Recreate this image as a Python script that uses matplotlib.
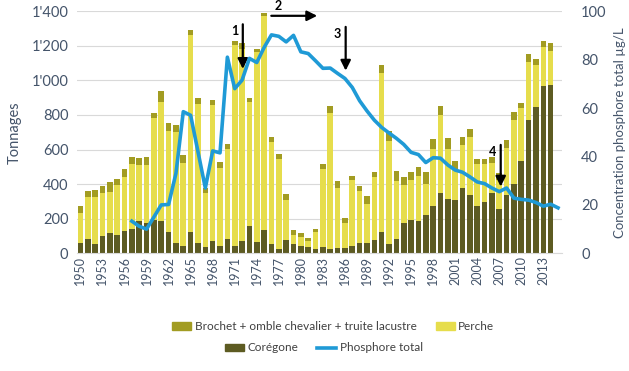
import numpy as np
import matplotlib
matplotlib.use("Agg")
import matplotlib.pyplot as plt
from matplotlib.lines import Line2D
from matplotlib.patches import Patch
from matplotlib.ticker import FuncFormatter

plt.rcParams['font.family'] = ['Lato', 'DejaVu Sans']

years = np.arange(1950, 2015)
coregone = [62, 83, 52, 100, 116, 104, 131, 143, 187, 177,
            193, 190, 121, 62, 42, 125, 62, 39, 71, 42,
            83, 42, 73, 158, 67, 135, 54, 23, 77, 52,
            42, 39, 23, 39, 23, 29, 29, 42, 61, 61,
            80, 124, 53, 82, 176, 195, 185, 220, 271, 348,
            315, 309, 376, 335, 275, 298, 350, 256, 335, 399,
            532, 770, 847, 967, 971]
perche = [169, 241, 272, 247, 240, 289, 310, 373, 325, 335,
          587, 686, 586, 641, 478, 1136, 799, 312, 784, 453,
          520, 1162, 1106, 714, 1098, 1238, 587, 520, 231, 54,
          50, 34, 98, 450, 790, 347, 144, 382, 302, 226,
          359, 917, 596, 338, 221, 229, 264, 181, 334, 454,
          290, 178, 250, 339, 241, 218, 174, 168, 272, 371,
          306, 337, 239, 227, 200]
brochet = [42, 36, 42, 42, 56, 37, 44, 43, 37, 43,
           33, 64, 48, 38, 46, 29, 35, 25, 31, 31,
           29, 21, 34, 24, 18, 17, 29, 29, 35, 29,
           27, 14, 22, 27, 40, 42, 33, 25, 29, 42,
           29, 48, 58, 54, 46, 44, 53, 67, 54, 48,
           60, 48, 46, 42, 29, 29, 31, 42, 48, 45,
           33, 45, 39, 35, 42]

phos_years = np.arange(1957, 2016)
phosphore = [13.3, 11.2, 10, 15, 20, 20.2, 33, 58.5, 57, 42,
             27, 42.3, 41.5, 81, 68, 71.5, 80.5, 78.8, 85, 90.2,
             89.6, 87.3, 90, 83.2, 82.5, 79.5, 76.4, 76.5, 74.3, 72.2,
             68.5, 63, 58.8, 55, 52, 49.7, 47.5, 45, 41.7, 40.8,
             37.5, 39.5, 39.3, 36.5, 34.4, 33.5, 31.6, 29.5, 28.8, 27,
             25.5, 27, 22.8, 22.3, 22, 21, 19.5, 20.3, 18.8]

# annotation arrows: label, x0, y0, x1, y1 (years / tonnes)
arrows = [("1", 1972.1, 1340, 1972.1, 1050),
          ("2", 1975.6, 1373, 1982.6, 1373),
          ("3", 1986.1, 1325, 1986.1, 1040),
          ("4", 2007.2, 643, 2007.2, 370)]

c_cor = '#5d5b22'
c_per = '#e6dd4c'
c_bro = '#a29c22'
c_pho = '#1f9ad6'
c_txt = '#44546a'

fig = plt.figure(figsize=(6.29, 3.71), dpi=100)
ax = fig.add_axes([0.122, 0.317, 0.771, 0.653])

w = 0.76
ax.bar(years, coregone, w, color=c_cor, zorder=2)
ax.bar(years, perche, w, bottom=coregone, color=c_per, zorder=2)
bot = np.array(coregone) + np.array(perche)
ax.bar(years, brochet, w, bottom=bot, color=c_bro, zorder=2)

ax.set_xlim(1949.5, 2015.5)
ax.set_ylim(0, 1400)
ax.set_yticks(np.arange(0, 1401, 200))
ax.yaxis.set_major_formatter(FuncFormatter(lambda v, p: f"{int(v):,}".replace(",", "'")))
ax.grid(axis='y', color='#d9d9d9', lw=0.8, zorder=0)
ax.set_xticks(np.arange(1950, 2014, 3))
ax.tick_params(axis='x', rotation=90, labelsize=9, colors=c_txt, length=0, pad=2)
ax.tick_params(axis='y', labelsize=10.5, colors=c_txt, length=0, pad=6)
for s in ['top', 'right', 'left']:
    ax.spines[s].set_visible(False)
ax.spines['bottom'].set_color('#d9d9d9')
ax.set_ylabel('Tonnages', fontsize=10.5, color=c_txt, labelpad=7)

ax2 = ax.twinx()
ax2.plot(phos_years, phosphore, color=c_pho, lw=2.6, zorder=3)
ax2.set_ylim(0, 100)
ax2.set_yticks(np.arange(0, 101, 20))
ax2.tick_params(axis='y', labelsize=10.5, colors=c_txt, length=0, pad=14)
for s in ax2.spines.values():
    s.set_visible(False)
ax2.set_ylabel('Concentration phosphore total µg/L', fontsize=9.5, color=c_txt, labelpad=5)

for lab, x0, y0, x1, y1 in arrows:
    ax.annotate('', xy=(x1, y1), xytext=(x0, y0), annotation_clip=False,
                arrowprops=dict(arrowstyle='-|>,head_length=0.6,head_width=0.3',
                                color='black', lw=1.6), zorder=5)
    if x0 == x1:
        ax.text(x0 - 0.6, y0 - 20, lab, ha='right', va='top', fontsize=9,
                fontweight='bold', zorder=5)
    else:
        ax.text(x0 + 1.3, y0 + 20, lab, ha='center', va='bottom', fontsize=9,
                fontweight='bold', clip_on=False, zorder=5)

h1 = [Patch(color=c_bro), Patch(color=c_per)]
l1 = ['Brochet + omble chevalier + truite lacustre', 'Perche']
h2 = [Patch(color=c_cor), Line2D([], [], color=c_pho, lw=2.6)]
l2 = ['Corégone', 'Phosphore total']
kw = dict(frameon=False, fontsize=8.5, handlelength=1.6, handleheight=0.6,
          handletextpad=0.3, columnspacing=1.6, labelcolor='#404040')
fig.legend(h1, l1, ncol=2, loc='center', bbox_to_anchor=(0.53, 0.12), **kw)
fig.legend(h2, l2, ncol=2, loc='center', bbox_to_anchor=(0.515, 0.062), **kw)

fig.savefig('out.png', dpi=100)
